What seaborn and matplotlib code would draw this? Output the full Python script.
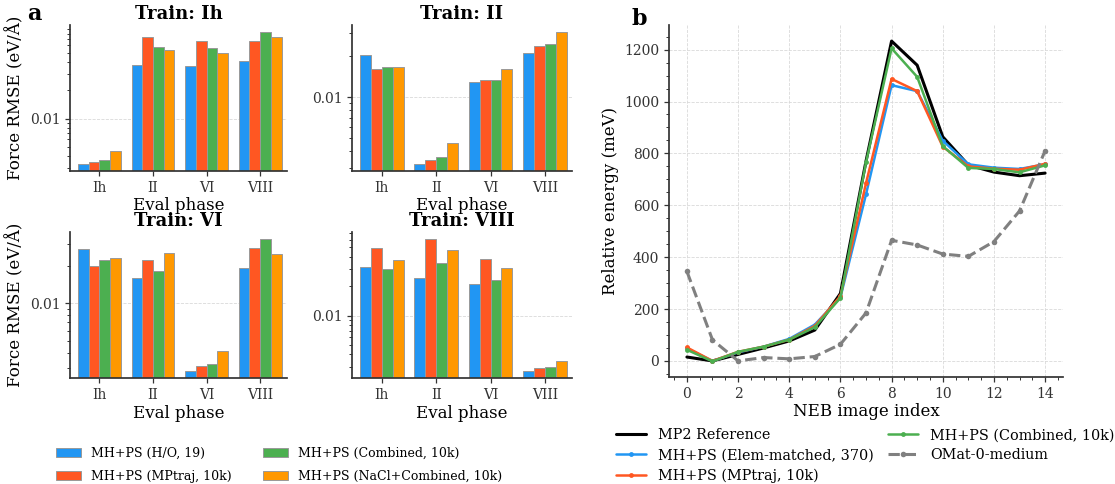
import numpy as np
import pandas as pd
import matplotlib
matplotlib.use("Agg")
import matplotlib.pyplot as plt
from matplotlib.patches import Patch
from matplotlib.ticker import FuncFormatter, NullFormatter, LogLocator, AutoMinorLocator
import seaborn as sns

sns.set_theme(style="ticks")
plt.rcParams["font.family"] = ["DejaVu Serif"]
plt.rcParams["axes.edgecolor"] = "0.2"
plt.rcParams["xtick.color"] = "0.2"
plt.rcParams["ytick.color"] = "0.2"
plt.rcParams["axes.labelcolor"] = "black"
plt.rcParams["text.color"] = "black"

# ---------------- panel a: force RMSE per training / evaluation phase ----------------
eval_phases = ["Ih", "II", "VI", "VIII"]
train_phases = ["Ih", "II", "VI", "VIII"]
bar_models = ["MH+PS (H/O, 19)", "MH+PS (MPtraj, 10k)",
              "MH+PS (Combined, 10k)", "MH+PS (NaCl+Combined, 10k)"]
bar_colors = ["#2196F3", "#FF5722", "#4CAF50", "#FF9800"]

# force RMSE in eV/Å; rows follow bar_models, columns follow eval_phases
rmse_train_ih = [
    [0.00326, 0.0372, 0.0359, 0.0407],
    [0.00348, 0.0737, 0.0662, 0.0673],
    [0.00362, 0.0575, 0.0566, 0.0840],
    [0.00453, 0.0534, 0.0496, 0.0731],
]
rmse_train_ii = [
    [0.0206, 0.00317, 0.0129, 0.0213],
    [0.0161, 0.00343, 0.0133, 0.0240],
    [0.0168, 0.00357, 0.0133, 0.0247],
    [0.0168, 0.00456, 0.0162, 0.0305],
]
rmse_train_vi = [
    [0.0271, 0.0160, 0.00283, 0.0192],
    [0.0200, 0.0222, 0.00314, 0.0278],
    [0.0222, 0.0182, 0.00324, 0.0330],
    [0.0231, 0.0255, 0.00410, 0.0250],
]
rmse_train_viii = [
    [0.0316, 0.0240, 0.0210, 0.00268],
    [0.0496, 0.0613, 0.0379, 0.00288],
    [0.0302, 0.0342, 0.0232, 0.00297],
    [0.0370, 0.0473, 0.0309, 0.00345],
]
rmse_tables = [rmse_train_ih, rmse_train_ii, rmse_train_vi, rmse_train_viii]

# ---------------- panel b: NEB energy profile ----------------
neb_index = list(range(15))
e_mp2 = [15, 0, 25, 50, 77, 119, 260, 770, 1233, 1140, 864, 755, 728, 714, 724]
e_elem = [48, 0, 33, 55, 85, 140, 245, 642, 1063, 1040, 849, 758, 745, 740, 758]
e_mptraj = [52, 0, 35, 55, 82, 135, 250, 685, 1087, 1040, 826, 750, 741, 737, 760]
e_combined = [43, -2, 35, 55, 82, 130, 243, 765, 1205, 1095, 828, 744, 740, 727, 754]
e_omat = [345, 81, 0, 13, 8, 17, 64, 185, 465, 447, 412, 403, 460, 578, 810]

W, H = 1115, 484
fig = plt.figure(figsize=(W / 100, H / 100), dpi=100)


def frac(left, top, right, bottom):
    return [left / W, 1 - bottom / H, (right - left) / W, (bottom - top) / H]


bar_boxes = [
    frac(70, 25, 287, 171),
    frac(352, 25, 572, 171),
    frac(70, 232, 287, 378),
    frac(352, 232, 572, 378),
]

for k, (train, table, box) in enumerate(zip(train_phases, rmse_tables, bar_boxes)):
    ax = fig.add_axes(box)
    rows = []
    for m, model in enumerate(bar_models):
        for e, phase in enumerate(eval_phases):
            rows.append({"eval": phase, "model": model, "rmse": table[m][e]})
    df = pd.DataFrame(rows)
    sns.barplot(data=df, x="eval", y="rmse", hue="model", order=eval_phases,
                hue_order=bar_models, palette=bar_colors, errorbar=None,
                edgecolor="0.6", linewidth=0.7, saturation=1, legend=False, ax=ax)
    ax.set_yscale("log")
    vals = np.array(table, dtype=float)
    lo, hi = np.log10(vals.min()), np.log10(vals.max())
    pad = 0.05 * (hi - lo)
    ax.set_ylim(10 ** (lo - pad), 10 ** (hi + pad))
    ax.set_xlim(-0.55, 3.5)
    ax.yaxis.set_major_locator(LogLocator(base=10))
    ax.yaxis.set_minor_locator(LogLocator(base=10, subs=np.arange(2, 10)))
    ax.yaxis.set_major_formatter(FuncFormatter(lambda v, _: f"{v:g}"))
    ax.yaxis.set_minor_formatter(NullFormatter())
    ax.grid(axis="y", which="major", linestyle="--", color="0.85", linewidth=0.6)
    ax.set_axisbelow(True)
    sns.despine(ax=ax)
    ax.tick_params(axis="both", which="major", labelsize=10, length=3.5, width=0.9)
    ax.tick_params(axis="y", which="minor", length=2, width=0.7)
    ax.set_title(f"Train: {train}", fontsize=13, fontweight="bold", pad=4)
    ax.set_xlabel("Eval phase", fontsize=12, labelpad=2)
    if k % 2 == 0:
        ax.set_ylabel("Force RMSE (eV/Å)", fontsize=12)
    else:
        ax.set_ylabel("")

bar_handles = [Patch(facecolor=c, edgecolor="0.6", linewidth=0.7, label=m)
               for m, c in zip(bar_models, bar_colors)]
fig.legend(handles=bar_handles, loc="center", bbox_to_anchor=(0.250, 0.0395),
           ncol=2, frameon=False, fontsize=9, handlelength=2.0,
           columnspacing=2.5, labelspacing=0.75)

# ---------------- panel b ----------------
axb = fig.add_axes(frac(669, 25, 1063, 377))
sns.lineplot(x=neb_index, y=e_mp2, color="black", linewidth=2.2,
             label="MP2 Reference", ax=axb)
sns.lineplot(x=neb_index, y=e_elem, color="#2196F3", linewidth=1.8, marker="o",
             markersize=3.5, markeredgewidth=0, label="MH+PS (Elem-matched, 370)", ax=axb)
sns.lineplot(x=neb_index, y=e_mptraj, color="#FF5722", linewidth=1.8, marker="o",
             markersize=3.5, markeredgewidth=0, label="MH+PS (MPtraj, 10k)", ax=axb)
sns.lineplot(x=neb_index, y=e_combined, color="#4CAF50", linewidth=1.8, marker="o",
             markersize=3.5, markeredgewidth=0, label="MH+PS (Combined, 10k)", ax=axb)
sns.lineplot(x=neb_index, y=e_omat, color="gray", linewidth=2.2, linestyle="--",
             marker="o", markersize=4, markeredgewidth=0, label="OMat-0-medium", ax=axb)
axb.set_xlim(-0.7, 14.7)
axb.set_ylim(-62, 1295)
axb.set_xticks(range(0, 15, 2))
axb.xaxis.set_minor_locator(AutoMinorLocator(4))
axb.yaxis.set_minor_locator(AutoMinorLocator(4))
axb.grid(True, which="major", linestyle="--", color="0.85", linewidth=0.6)
axb.set_axisbelow(True)
sns.despine(ax=axb)
axb.tick_params(axis="both", which="major", labelsize=10, length=3.5, width=0.9)
axb.tick_params(axis="both", which="minor", length=2, width=0.7)
axb.set_xlabel("NEB image index", fontsize=12, labelpad=2)
axb.set_ylabel("Relative energy (meV)", fontsize=12)
handles, labels = axb.get_legend_handles_labels()
axb.get_legend().remove()
fig.legend(handles=handles, labels=labels, loc="center",
           bbox_to_anchor=(0.776, 0.059), ncol=2, frameon=False, fontsize=10.4,
           handlelength=2.1, columnspacing=1.0, labelspacing=0.42)

fig.text(0.024, 1 - 20 / H, "a", fontsize=16, fontweight="bold", va="baseline")
fig.text(0.566, 1 - 25 / H, "b", fontsize=16, fontweight="bold", va="baseline")

fig.savefig("out.png", dpi=100)
